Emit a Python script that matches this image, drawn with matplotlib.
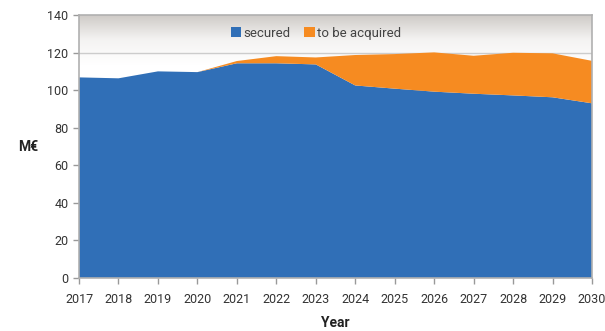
import matplotlib
matplotlib.use("Agg")

import matplotlib.pyplot as plt
import numpy as np
from matplotlib.colors import LinearSegmentedColormap

# Annual volumes in M€
years = [2017, 2018, 2019, 2020, 2021, 2022, 2023, 2024, 2025, 2026, 2027, 2028, 2029, 2030]
secured = [106.8, 106.3, 110.0, 109.6, 114.3, 114.3, 113.7, 102.5, 100.8, 99.2, 98.1, 97.2, 96.2, 93.0]
to_be_acquired = [0.0, 0.0, 0.0, 0.0, 1.2, 3.8, 3.7, 16.2, 18.4, 20.9, 20.2, 22.7, 23.4, 22.6]

blue = "#306fb7"
orange = "#f68b21"

plt.rcParams["font.family"] = ["Roboto", "DejaVu Sans"]

fig = plt.figure(figsize=(6.05, 3.31), dpi=100)
ax = fig.add_axes([0.1306, 0.160, 0.8479, 0.7947])

# grey-to-white background gradient in the upper part of the plot
grad = np.linspace(0, 1, 256).reshape(-1, 1)
cmap = LinearSegmentedColormap.from_list("bg", ["#ffffff", "#ffffff", "#f4f3f2", "#cdc9c5"])
ax.imshow(grad, cmap=cmap, aspect="auto", origin="lower",
          extent=[years[0], years[-1], 100, 140], zorder=0)

for y in range(20, 140, 20):
    ax.axhline(y, color="#cccccc", linewidth=1, zorder=1)

ax.stackplot(years, secured, to_be_acquired, colors=[blue, orange],
             labels=["secured", "to be acquired"], zorder=2, linewidth=0)

ax.set_xlim(years[0], years[-1])
ax.set_ylim(0, 140)
ax.set_xticks(years)
ax.set_yticks(range(0, 141, 20))

for side in ["top", "right", "left", "bottom"]:
    ax.spines[side].set_color("#b0b0b0")
    ax.spines[side].set_linewidth(1.2)
    ax.spines[side].set_zorder(3)

ax.tick_params(axis="both", colors="#999999", labelcolor="#333333", labelsize=9, length=4, width=1)
ax.tick_params(axis="x", pad=7)

ax.set_xlabel("Year", fontsize=10, fontweight="bold", color="#222222", labelpad=7)
ax.set_ylabel("M€", fontsize=10, fontweight="bold", color="#222222", rotation=0, labelpad=14, va="center")

leg = ax.legend(loc="center", ncol=2, frameon=False, fontsize=9.5,
                handlelength=0.8, handleheight=0.8, handletextpad=0.2,
                columnspacing=1.0, bbox_to_anchor=(0.462, 0.93))
for t in leg.get_texts():
    t.set_color("#444444")

fig.savefig("out.png", dpi=100)
plt.close(fig)
